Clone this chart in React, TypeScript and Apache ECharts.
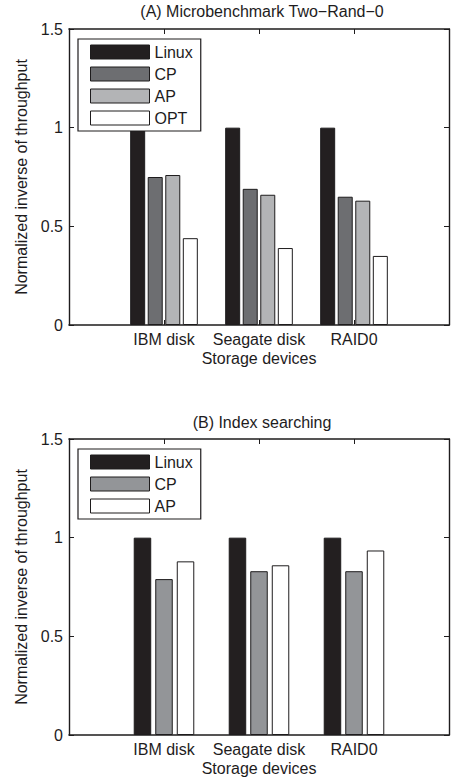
import React, { useEffect, useRef } from "react";
import * as echarts from "echarts";

const categories = ["IBM disk", "Seagate disk", "RAID0"];
const titleA = "(A) Microbenchmark Two\u2212Rand\u22120";
const titleB = "(B) Index searching";
const yName = "Normalized inverse of throughput";
const xName = "Storage devices";

const linuxA = [1, 1, 1];
const cpA = [0.75, 0.69, 0.65];
const apA = [0.76, 0.66, 0.63];
const optA = [0.44, 0.39, 0.35];

const linuxB = [1, 1, 1];
const cpB = [0.79, 0.83, 0.83];
const apB = [0.88, 0.86, 0.935];

const FONT = "'Liberation Sans', Arial, Helvetica, sans-serif";
const INK = "#1e1c1d";
const FS = 16;

function xAxes(gridIndex: number) {
  return [
    {
      type: "value",
      gridIndex,
      min: 0,
      max: 4,
      interval: 1,
      position: "bottom",
      name: xName,
      nameLocation: "middle",
      nameGap: 25,
      nameTextStyle: { fontFamily: FONT, fontSize: FS, color: INK },
      axisLine: { show: true, onZero: false, lineStyle: { color: INK, width: 1.6 } },
      axisTick: { show: true, inside: true, length: 5, lineStyle: { color: INK } },
      axisLabel: {
        margin: 6,
        fontFamily: FONT,
        fontSize: FS,
        color: INK,
        formatter: (v: number) => categories[v - 1] ?? "",
      },
      splitLine: { show: false },
    },
    {
      type: "value",
      gridIndex,
      min: 0,
      max: 4,
      interval: 1,
      position: "top",
      axisLine: { show: true, onZero: false, lineStyle: { color: INK, width: 1.6 } },
      axisTick: { show: true, inside: true, length: 5, lineStyle: { color: INK } },
      axisLabel: { show: false },
      splitLine: { show: false },
    },
  ];
}

function yAxes(gridIndex: number) {
  return [
    {
      type: "value",
      gridIndex,
      min: 0,
      max: 1.5,
      interval: 0.5,
      position: "left",
      name: yName,
      nameLocation: "middle",
      nameRotate: 90,
      nameGap: 38,
      nameTextStyle: { fontFamily: FONT, fontSize: FS, color: INK },
      axisLine: { show: true, onZero: false, lineStyle: { color: INK, width: 1.4 } },
      axisTick: { show: true, inside: true, length: 5, lineStyle: { color: INK } },
      axisLabel: { margin: 6, fontFamily: FONT, fontSize: FS, color: INK },
      splitLine: { show: false },
    },
    {
      type: "value",
      gridIndex,
      min: 0,
      max: 1.5,
      interval: 0.5,
      position: "right",
      axisLine: { show: true, onZero: false, lineStyle: { color: INK, width: 1.4 } },
      axisTick: { show: true, inside: true, length: 5, lineStyle: { color: INK } },
      axisLabel: { show: false },
      splitLine: { show: false },
    },
  ];
}

function barSeries(
  name: string,
  values: number[],
  color: string,
  axisBase: number,
  barWidth: number,
  barGap: string
) {
  return {
    type: "bar",
    name,
    xAxisIndex: axisBase,
    yAxisIndex: axisBase,
    barWidth,
    barGap,
    itemStyle: { color, borderColor: INK, borderWidth: 1 },
    data: values.map((v, i) => [i + 1, v]),
  };
}

function legend(top: number, items: { name: string; color: string }[]) {
  return {
    orient: "vertical",
    left: 78,
    top,
    padding: [5, 8, 5, 12],
    backgroundColor: "#ffffff",
    borderColor: INK,
    borderWidth: 1.2,
    borderRadius: 0,
    itemWidth: 59,
    itemHeight: 14,
    itemGap: 6,
    icon: "rect",
    selectedMode: false,
    textStyle: { fontFamily: FONT, fontSize: FS, color: INK, lineHeight: 14 },
    data: items.map((it) => ({
      name: it.name,
      itemStyle: { color: it.color, borderColor: INK, borderWidth: 1 },
    })),
  };
}

export default function App() {
  const ref = useRef<HTMLDivElement>(null);

  useEffect(() => {
    if (!ref.current) return;
    const chart = echarts.init(ref.current, undefined, { renderer: "svg" });
    const colA = { linux: "#231f20", cp: "#6d6e71", ap: "#b3b4b6", opt: "#ffffff" };
    const colB = { linux: "#231f20", cp: "#939598", ap: "#ffffff" };
    chart.setOption({
      animation: false,
      backgroundColor: "#ffffff",
      title: [
        {
          text: titleA,
          left: 262,
          top: 3,
          textAlign: "center",
          padding: 0,
          textStyle: { fontFamily: FONT, fontSize: FS, fontWeight: "normal", color: INK },
        },
        {
          text: titleB,
          left: 262,
          top: 414,
          textAlign: "center",
          padding: 0,
          textStyle: { fontFamily: FONT, fontSize: FS, fontWeight: "normal", color: INK },
        },
      ],
      legend: [
        legend(39, [
          { name: "Linux", color: colA.linux },
          { name: "CP", color: colA.cp },
          { name: "AP", color: colA.ap },
          { name: "OPT", color: colA.opt },
        ]),
        legend(449, [
          { name: "Linux", color: colB.linux },
          { name: "CP", color: colB.cp },
          { name: "AP", color: colB.ap },
        ]),
      ],
      grid: [
        { left: 69, top: 29, width: 387, height: 296 },
        { left: 69, top: 439, width: 387, height: 296 },
      ],
      xAxis: [...xAxes(0), ...xAxes(1)],
      yAxis: [...yAxes(0), ...yAxes(1)],
      series: [
        barSeries("Linux", linuxA, colA.linux, 0, 15, "17%"),
        barSeries("CP", cpA, colA.cp, 0, 15, "17%"),
        barSeries("AP", apA, colA.ap, 0, 15, "17%"),
        barSeries("OPT", optA, colA.opt, 0, 15, "17%"),
        barSeries("Linux", linuxB, colB.linux, 2, 17.5, "23%"),
        barSeries("CP", cpB, colB.cp, 2, 17.5, "23%"),
        barSeries("AP", apB, colB.ap, 2, 17.5, "23%"),
      ],
    });
    return () => chart.dispose();
  }, []);

  return (
    <div
      ref={ref}
      style={{ position: "fixed", left: 0, top: 0, width: 452, height: 781, background: "#fff" }}
    />
  );
}
